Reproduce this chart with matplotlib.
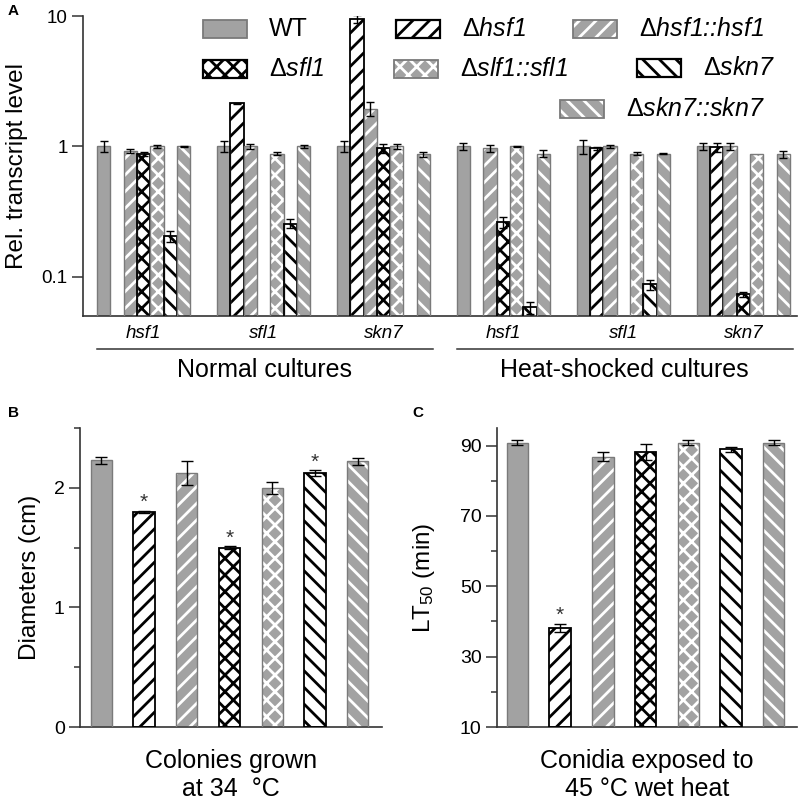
import matplotlib
matplotlib.use('Agg')
import matplotlib.pyplot as plt
import matplotlib.transforms as mtrans
from matplotlib.patches import Rectangle
import numpy as np

plt.rcParams['font.family'] = ['Liberation Sans', 'DejaVu Sans']
plt.rcParams['mathtext.fontset'] = 'custom'
plt.rcParams['mathtext.rm'] = 'Liberation Sans'
plt.rcParams['mathtext.it'] = 'Liberation Sans:italic'
plt.rcParams['mathtext.bf'] = 'Liberation Sans:bold'
plt.rcParams['hatch.linewidth'] = 2.0

nan = np.nan

# ---------------- data ----------------
strains = ['WT', 'Δhsf1', 'Δhsf1::hsf1', 'Δsfl1', 'Δslf1::sfl1', 'Δskn7', 'Δskn7::skn7']
legend_labels = ['WT', r'$\Delta$hsf1', r'$\Delta$hsf1::hsf1', r'$\Delta$sfl1',
                 r'$\Delta$slf1::sfl1', r'$\Delta$skn7', r'$\Delta$skn7::skn7']
genes = ['hsf1', 'sfl1', 'skn7']
conditions = ['Normal cultures', 'Heat-shocked cultures']

# Panel A: relative transcript levels (nan = gene deleted, no bar)
normal_hsf1 = [1.00, nan, 0.92, 0.88, 1.00, 0.205, 1.00]
normal_hsf1_err = [0.09, nan, 0.03, 0.03, 0.03, 0.02, 0.01]
normal_sfl1 = [1.00, 2.14, 1.00, nan, 0.88, 0.255, 1.00]
normal_sfl1_err = [0.09, 0.02, 0.04, nan, 0.02, 0.02, 0.02]
normal_skn7 = [1.00, 9.50, 1.95, 0.965, 1.00, nan, 0.87]
normal_skn7_err = [0.10, 0.70, 0.25, 0.08, 0.05, nan, 0.04]
heat_hsf1 = [1.00, nan, 0.965, 0.26, 1.00, 0.058, 0.88]
heat_hsf1_err = [0.07, nan, 0.06, 0.025, 0.015, 0.006, 0.05]
heat_sfl1 = [1.00, 0.965, 1.00, nan, 0.88, 0.087, 0.88]
heat_sfl1_err = [0.12, 0.03, 0.02, nan, 0.02, 0.008, 0.005]
heat_skn7 = [1.00, 0.99, 1.00, 0.073, 0.88, nan, 0.87]
heat_skn7_err = [0.07, 0.08, 0.06, 0.003, 0.0, nan, 0.05]

panelA_values = [normal_hsf1, normal_sfl1, normal_skn7, heat_hsf1, heat_sfl1, heat_skn7]
panelA_errors = [normal_hsf1_err, normal_sfl1_err, normal_skn7_err,
                 heat_hsf1_err, heat_sfl1_err, heat_skn7_err]

# Panel B: colony diameters (cm) at 34 C
diam = [2.23, 1.80, 2.12, 1.50, 2.00, 2.12, 2.22]
diam_err = [0.03, 0.01, 0.10, 0.01, 0.05, 0.025, 0.03]
diam_sig = [False, True, False, True, False, True, False]

# Panel C: LT50 (min) at 45 C wet heat
lt50 = [90.8, 38.2, 86.8, 88.2, 90.8, 88.9, 90.8]
lt50_err = [0.7, 1.1, 1.3, 2.3, 0.7, 0.7, 0.7]
lt50_sig = [False, True, False, False, False, False, False]

# ---------------- styles ----------------
GRAY = '#a2a2a2'
GEDGE = '#7a7a7a'
face = [GRAY, 'white', GRAY, 'white', GRAY, 'white', GRAY]
hatches = [None, '//', '//', 'xx', 'xx', '\\\\', '\\\\']
hatch_col = [GRAY, 'black', 'white', 'black', 'white', 'black', 'white']
edge = [GEDGE, 'black', GEDGE, 'black', GEDGE, 'black', GEDGE]
edge_lw = [1.0, 1.3, 1.0, 1.3, 1.0, 1.3, 1.0]
AXC = '#333333'

W, H = 800, 809
fig = plt.figure(figsize=(W / 100, H / 100), dpi=100)


def px_rect(l, t, r, b):
    return [l / W, 1 - b / H, (r - l) / W, (b - t) / H]


def draw_bar(ax, x, h, i, width, bottom=0):
    ax.bar(x, h, width, bottom=bottom, color=face[i], edgecolor=hatch_col[i],
           hatch=hatches[i], linewidth=0, zorder=2)
    ax.bar(x, h, width, bottom=bottom, fill=False, edgecolor=edge[i],
           linewidth=edge_lw[i], zorder=3)


def style_axes(ax):
    for s in ['top', 'right']:
        ax.spines[s].set_visible(False)
    for s in ['left', 'bottom']:
        ax.spines[s].set_color(AXC)
        ax.spines[s].set_linewidth(1.2)
    ax.tick_params(axis='y', which='major', length=8, width=1.1, color=AXC, pad=3)
    ax.tick_params(axis='y', which='minor', length=4.5, width=1.1, color=AXC)
    ax.tick_params(axis='x', length=0)


# ---------------- Panel A ----------------
axA = fig.add_axes(px_rect(83, 16, 797, 316))
style_axes(axA)
axA.set_yscale('log')
for k, (vals, errs) in enumerate(zip(panelA_values, panelA_errors)):
    base = k * 9
    for i in range(7):
        v = vals[i]
        if np.isnan(v):
            continue
        draw_bar(axA, base + i, v, i, 1.0, bottom=1e-3)
        e = errs[i]
        if e > 0:
            axA.errorbar(base + i, v, yerr=e, fmt='none', ecolor='black',
                         elinewidth=1.0, capsize=3.2, capthick=1.0, zorder=4)
axA.set_ylim(0.05, 10)
axA.set_xlim(-1.55, 52.03)
axA.set_yticks([0.1, 1, 10])
axA.set_yticklabels(['0.1', '1', '10'], fontsize=13.5)
axA.yaxis.set_minor_locator(matplotlib.ticker.NullLocator())
axA.set_xticks([])
axA.set_ylabel('Rel. transcript level', fontsize=17.5)
axA.yaxis.set_label_coords(-0.077, 0.5)

trA = mtrans.blended_transform_factory(axA.transData, axA.transAxes)
for k in range(6):
    axA.text(k * 9 + 3, -0.057, genes[k % 3], transform=trA, ha='center', va='center',
             style='italic', fontsize=13.5)
for c in range(2):
    x0 = c * 27 - 0.5
    x1 = c * 27 + 18 + 6.5 + 0.2
    axA.plot([x0, x1], [-0.11, -0.11], color=AXC, lw=1.1, transform=trA, clip_on=False)
    axA.text((x0 + x1) / 2, -0.18, conditions[c], transform=trA, ha='center',
             va='center', fontsize=18)

# legend (manually laid out keys)
legend_pos = [(203, 29), (396, 29), (573, 29), (203, 69), (394, 69), (637, 68), (560, 109)]
kw_, kh_ = 44, 17
for i, (lx, ly) in enumerate(legend_pos):
    rect_xy = (lx / W, 1 - (ly + kh_ / 2) / H)
    r1 = Rectangle(rect_xy, kw_ / W, kh_ / H, transform=fig.transFigure,
                   facecolor=face[i], edgecolor=hatch_col[i], hatch=hatches[i], linewidth=0)
    r2 = Rectangle(rect_xy, kw_ / W, kh_ / H, transform=fig.transFigure,
                   fill=False, edgecolor=edge[i], linewidth=edge_lw[i] + 0.3)
    fig.add_artist(r1)
    fig.add_artist(r2)
    fig.text((lx + kw_ + 22) / W, 1 - ly / H, legend_labels[i], fontsize=18,
             style='normal' if i == 0 else 'italic', ha='left', va='center')

# ---------------- Panel B ----------------
axB = fig.add_axes(px_rect(80, 428, 382, 727))
style_axes(axB)
xb = np.arange(7)
for i in range(7):
    draw_bar(axB, xb[i], diam[i], i, 0.5)
    axB.errorbar(xb[i], diam[i], yerr=diam_err[i], fmt='none', ecolor='black',
                 elinewidth=1.0, capsize=4, capthick=1.0, zorder=4)
    if diam_sig[i]:
        axB.annotate('*', xy=(xb[i], diam[i] + diam_err[i]), xytext=(0, 6),
                     textcoords='offset points', ha='center', va='center',
                     fontsize=15, color=AXC)
axB.set_ylim(0, 2.5)
axB.set_xlim(-0.5, 6.57)
axB.set_yticks([0, 1, 2])
axB.set_yticklabels(['0', '1', '2'], fontsize=14)
axB.set_yticks([0.5, 1.5, 2.5], minor=True)
axB.set_xticks([])
axB.set_ylabel('Diameters (cm)', fontsize=17.5)
axB.yaxis.set_label_coords(-0.13, 0.5)
axB.set_xlabel('Colonies grown\nat 34  °C', fontsize=18, linespacing=1.2)
axB.xaxis.set_label_coords(0.5, -0.075)

# ---------------- Panel C ----------------
axC = fig.add_axes(px_rect(497, 428, 797, 727))
style_axes(axC)
for i in range(7):
    draw_bar(axC, xb[i], lt50[i] - 10, i, 0.5, bottom=10)
    axC.errorbar(xb[i], lt50[i], yerr=lt50_err[i], fmt='none', ecolor='black',
                 elinewidth=1.0, capsize=4, capthick=1.0, zorder=4)
    if lt50_sig[i]:
        axC.annotate('*', xy=(xb[i], lt50[i] + lt50_err[i]), xytext=(0, 6),
                     textcoords='offset points', ha='center', va='center',
                     fontsize=15, color=AXC)
axC.set_ylim(10, 95)
axC.set_xlim(-0.48, 6.55)
axC.set_yticks([10, 30, 50, 70, 90])
axC.set_yticklabels(['10', '30', '50', '70', '90'], fontsize=14)
axC.set_yticks([20, 40, 60, 80], minor=True)
axC.set_xticks([])
axC.set_ylabel('LT$_{50}$ (min)', fontsize=17.5)
axC.yaxis.set_label_coords(-0.2, 0.5)
axC.set_xlabel('Conidia exposed to\n45 °C wet heat', fontsize=18, linespacing=1.2)
axC.xaxis.set_label_coords(0.5, -0.075)

# panel letters
fig.text(8 / W, 1 - 4 / H, 'A', fontsize=11, weight='bold', va='top', ha='left')
fig.text(8 / W, 1 - 406 / H, 'B', fontsize=11, weight='bold', va='top', ha='left')
fig.text(412 / W, 1 - 406 / H, 'C', fontsize=11, weight='bold', va='top', ha='left')

fig.savefig('out.png', dpi=100)
